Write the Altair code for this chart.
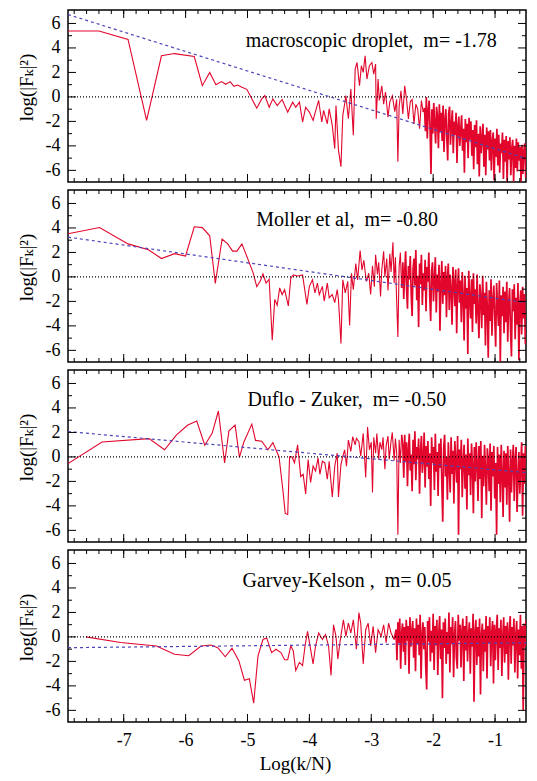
import altair as alt
import numpy as np
import pandas as pd

FONT = "Liberation Serif, Times New Roman, DejaVu Serif, serif"
RED = "#e2062c"
BLUE = "#4b45b8"

X_DOMAIN = [-7.9, -0.5]
Y_DOMAIN = [-6.95, 7.1]
X_MAJOR = [-7, -6, -5, -4, -3, -2, -1]
X_MINOR = [round(-7.8 + 0.2 * i, 1) for i in range(37)]
Y_MAJOR = [-6, -4, -2, 0, 2, 4, 6]
Y_MINOR = [-5, -3, -1, 1, 3, 5]
DENSE_STEP = 0.015

# ---------------- panel 1 : macroscopic droplet ----------------
p1_pts = [(-7.90, 5.38), (-7.40, 5.38), (-6.93, 4.70), (-6.63, -1.92), (-6.39, 3.36), (-6.18, 3.54),
          (-5.86, 3.30), (-5.73, 0.92), (-5.61, 2.0), (-5.51, 1.0), (-5.42, 1.25), (-5.35, 1.03),
          (-5.28, 1.25), (-5.22, 0.87), (-5.16, 0.97), (-5.09, 0.79), (-5.01, 0.62), (-4.85, -0.92),
          (-4.77, -0.16), (-4.72, 0.11), (-4.65, -0.84), (-4.59, -0.16), (-4.52, -0.70), (-4.44, -0.21),
          (-4.35, -1.24), (-4.27, -0.43), (-4.22, -0.84), (-4.16, -0.43), (-4.11, -2.05), (-4.06, -0.84),
          (-4.00, -1.24), (-3.94, -1.92), (-3.89, -0.97), (-3.85, -0.29), (-3.80, -2.05), (-3.77, -1.10),
          (-3.71, -2.19), (-3.68, -0.97), (-3.63, -2.32), (-3.59, -4.22), (-3.57, -0.70), (-3.53, -4.35),
          (-3.49, -5.70), (-3.46, -1.51), (-3.43, -0.57), (-3.41, 0.11), (-3.37, -1.78), (-3.33, 0.65),
          (-3.29, -3.13), (-3.26, 2.27), (-3.23, 2.81), (-3.19, 0.92), (-3.16, 2.55), (-3.13, 2.0),
          (-3.10, 3.36), (-3.07, 1.46), (-3.03, 2.55), (-2.99, 2.81), (-2.96, 1.86), (-2.93, 2.68),
          (-2.92, -1.78), (-2.89, 1.46), (-2.87, -0.29), (-2.83, 0.9), (-2.80, -0.6), (-2.77, 0.4),
          (-2.73, -1.65), (-2.70, -0.4), (-2.66, 0.1), (-2.62, -1.2), (-2.59, -0.2), (-2.57, -5.3),
          (-2.55, -0.8), (-2.52, 0.5), (-2.49, -1.4), (-2.46, 0.9), (-2.43, -0.2), (-2.40, -1.8),
          (-2.37, -0.4), (-2.34, -0.2), (-2.31, -2.2), (-2.28, -0.6), (-2.25, -1.0), (-2.22, -2.6),
          (-2.19, -0.3), (-2.16, -1.24)]
p1_dense_start = -2.14
p1_dense = [-0.9, -2.8, 0.0, -3.4, -1.2, -0.3, -2.6, -6.3, -1.0, -3.0,
            -0.5, -2.2, -3.8, -0.8, -1.6, -4.2, -0.6, -2.9, -1.3, -3.6,
            -0.7, -4.5, -1.9, -1.0, -3.3, -5.2, -1.4, -0.8, -3.9, -2.2,
            -1.1, -4.6, -2.0, -3.1, -1.3, -5.4, -2.4, -1.6, -4.0, -2.8,
            -1.5, -4.4, -2.6, -6.2, -1.8, -3.7, -2.2, -5.0, -1.7, -3.5,
            -2.0, -4.8, -2.7, -5.9, -2.3, -4.1, -1.9, -5.5, -3.0, -6.5,
            -2.4, -4.6, -3.3, -2.2, -5.7, -3.1, -6.4, -2.5, -4.3, -2.8,
            -5.2, -2.7, -6.0, -3.6, -2.9, -6.8, -3.4, -4.9, -2.6, -5.6,
            -3.1, -6.2, -3.8, -4.6, -2.9, -6.7, -3.5, -5.3, -3.2, -7.0,
            -3.6, -5.1, -3.3, -6.4, -4.2, -3.5, -6.9, -4.0, -5.8, -3.4,
            -6.1, -3.7, -5.2, -4.1, -7.0, -3.9, -6.3, -4.4, -3.8, -6.6]
p1_fit = [6.73, -5.03]

# ---------------- panel 2 : Moller et al ----------------
p2_pts = [(-7.90, 3.53), (-7.39, 4.03), (-6.93, 2.70), (-6.60, 2.22), (-6.39, 1.50), (-6.18, 1.90),
          (-6.00, 1.71), (-5.86, 4.10), (-5.73, 4.03), (-5.61, 3.36), (-5.52, -0.53), (-5.41, 3.10),
          (-5.32, 2.70), (-5.24, 2.11), (-5.17, 2.11), (-5.09, 2.70), (-4.97, 1.15), (-4.91, 0.35),
          (-4.85, -0.80), (-4.79, -0.29), (-4.75, 0.25), (-4.70, -0.50), (-4.65, -0.18), (-4.60, -5.17),
          (-4.56, -1.84), (-4.52, -2.32), (-4.48, -0.90), (-4.44, -1.44), (-4.40, -1.04), (-4.34, -2.37),
          (-4.30, -0.10), (-4.26, 0.16), (-4.19, 0.08), (-4.11, 0.16), (-4.04, -2.24), (-4.00, -0.77),
          (-3.95, -0.24), (-3.91, -1.30), (-3.87, -0.50), (-3.84, -1.44), (-3.79, -0.77), (-3.76, -1.97),
          (-3.71, -0.50), (-3.68, -1.70), (-3.63, -1.44), (-3.59, -2.10), (-3.55, -1.04), (-3.53, -1.84),
          (-3.49, -5.44), (-3.46, -0.24), (-3.42, -1.30), (-3.38, -0.37), (-3.35, -3.97), (-3.32, 0.30),
          (-3.29, -1.04), (-3.25, 1.10), (-3.22, -0.24), (-3.18, 2.16), (-3.15, 0.56), (-3.12, 1.36),
          (-3.08, -0.37), (-3.04, 0.30), (-3.01, -1.44), (-2.98, 0.9), (-2.95, -0.8), (-2.93, 1.8),
          (-2.90, 0.2), (-2.88, 1.2), (-2.85, -1.6), (-2.83, 0.6), (-2.80, 2.1), (-2.78, 0.0),
          (-2.75, 1.5), (-2.73, -1.1), (-2.70, 1.9), (-2.68, 0.4), (-2.65, 2.83), (-2.63, -0.5),
          (-2.61, 1.6), (-2.59, -1.9), (-2.57, -4.9), (-2.55, 0.8), (-2.53, 2.0), (-2.51, -0.9)]
p2_dense_start = -2.49
p2_dense = [1.2, -1.8, 0.4, 2.1, -0.9, -2.6, 0.9, -0.2, 1.7, -1.4,
            -3.2, 0.6, 1.5, -0.7, 2.2, -1.9, 0.1, -4.1, 1.1, -0.6,
            1.8, -2.3, 0.3, -1.1, 1.4, -2.8, 0.8, -0.4, 2.0, -1.6,
            -3.6, 0.5, 1.2, -2.0, -0.3, 1.6, -2.9, 0.2, -1.2, 1.0,
            -4.4, -0.6, 1.3, -2.2, 0.4, -1.5, 0.9, -3.3, -0.1, 1.1,
            -2.7, 0.2, -1.0, -3.9, 0.8, -0.5, -2.4, 0.6, -4.6, -0.8,
            0.7, -2.1, -0.3, -3.7, 0.4, -1.6, -5.2, 0.1, -2.6, -0.9,
            -6.3, 0.5, -1.8, -3.4, -0.2, -4.5, 0.3, -2.2, -1.0, -3.8,
            0.2, -2.9, -5.0, -0.6, -1.7, -4.2, 0.1, -3.1, -1.3, -5.6,
            -0.4, -2.5, -6.6, -1.1, -3.6, -0.2, -4.8, -1.9, -0.7, -3.3,
            -5.7, -0.5, -2.4, -4.0, -0.3, -6.9, -1.5, -3.2, -0.8, -4.6,
            -1.2, -3.7, -0.4, -5.3, -2.1, -0.9, -4.4, -6.5, -1.0, -2.8,
            -0.6, -5.1, -1.7, -3.9, -0.5, -6.8, -2.3, -1.1, -4.7, -0.8,
            -3.4, -1.4, -5.5]
p2_fit = [3.25, -2.10]

# ---------------- panel 3 : Duflo - Zuker ----------------
p3_pts = [(-7.90, -0.55), (-7.35, 1.22), (-6.59, 1.49), (-6.34, 0.58), (-6.15, 1.78), (-5.97, 2.58),
          (-5.82, 2.93), (-5.69, 0.95), (-5.57, 1.95), (-5.47, 3.75), (-5.37, -0.50), (-5.30, 2.13),
          (-5.20, 2.60), (-5.13, -0.04), (-5.06, 1.20), (-4.93, 2.68), (-4.87, 1.35), (-4.77, 1.28),
          (-4.67, 0.58), (-4.59, 1.17), (-4.49, 0.0), (-4.43, -2.62), (-4.39, -4.62), (-4.35, -4.70),
          (-4.32, 0.0), (-4.28, 0.0), (-4.24, -0.48), (-4.19, 0.98), (-4.14, -1.60), (-4.10, -1.42),
          (-4.06, -3.02), (-4.02, -0.22), (-3.98, -2.08), (-3.94, -0.75), (-3.90, -1.15), (-3.86, -0.08),
          (-3.83, -1.42), (-3.79, -0.35), (-3.75, -0.48), (-3.71, -1.82), (-3.68, -0.35), (-3.63, -3.28),
          (-3.59, -0.75), (-3.55, 0.32), (-3.53, -3.28), (-3.49, -0.62), (-3.46, 0.05), (-3.43, 0.58),
          (-3.40, -0.75), (-3.37, 1.38), (-3.33, 0.45), (-3.30, 1.65), (-3.26, 0.98), (-3.24, 1.52),
          (-3.20, 1.25), (-3.17, 0.05), (-3.13, 1.92), (-3.09, -1.68), (-3.06, 2.45), (-3.03, 0.58),
          (-3.00, 1.2), (-2.98, -2.9), (-2.96, 1.6), (-2.93, 0.3), (-2.91, 1.9), (-2.88, -0.2),
          (-2.86, 1.2), (-2.83, 0.6), (-2.81, 1.6), (-2.78, -1.0), (-2.76, 0.9), (-2.73, 1.7),
          (-2.71, -0.2), (-2.68, 1.3), (-2.66, 2.0), (-2.63, -0.3), (-2.61, 1.5), (-2.59, 0.4),
          (-2.57, -6.35), (-2.55, 1.4), (-2.53, -0.5), (-2.51, 1.8)]
p3_dense_start = -2.49
p3_dense = [0.9, -1.7, 1.8, -0.4, 1.2, -2.4, 0.6, 1.9, -1.1, 0.2,
            -2.8, 1.4, -0.6, 2.1, -1.9, 0.8, -0.2, 1.5, -3.0, 0.5,
            1.7, -1.3, -0.1, 2.0, -2.5, 0.9, -0.8, 1.3, -1.8, 0.3,
            -4.0, 1.6, -0.5, 0.8, -2.7, 1.9, -1.2, 0.4, -3.2, 1.1,
            -0.9, 1.5, -2.2, -5.3, 0.7, 1.8, -1.6, 0.0, -3.5, 1.2,
            -0.7, -2.9, 1.6, -1.4, 0.5, -3.8, 1.3, -0.3, -2.1, 1.7,
            -6.35, 0.6, -1.0, 1.4, -3.3, -0.4, 1.0, -2.6, 0.2, -4.3,
            1.5, -1.5, 0.3, -3.1, 1.1, -0.8, -4.6, 0.8, -2.0, 1.2,
            -0.6, -3.6, 0.9, -1.8, 1.3, -5.0, 0.1, -2.4, 1.0, -1.1,
            -3.9, 0.7, -0.2, -2.8, 1.1, -4.4, 0.4, -1.6, 0.9, -3.4,
            -0.5, -6.35, 0.8, -2.2, 0.2, -3.7, 1.0, -1.3, -4.9, 0.5,
            -2.5, 0.3, -3.9, 0.9, -1.4, -5.3, 0.6, -2.9, -0.4, 1.0,
            -3.6, -0.2, 0.8, -4.5, -1.7, 0.4, -3.0, -0.6, 1.2, -4.8,
            0.3, -2.2, 0.9]
p3_fit = [2.07, -1.28]

# ---------------- panel 4 : Garvey-Kelson ----------------
p4_pts = [(-7.61, 0.0), (-7.05, -0.45), (-6.47, -0.74), (-6.18, -1.41), (-5.95, -1.54), (-5.75, -0.74),
          (-5.59, -0.66), (-5.48, -0.88), (-5.36, -1.62), (-5.25, -0.93), (-5.14, -1.94), (-5.05, -3.54),
          (-4.97, -3.41), (-4.90, -5.41), (-4.83, -1.54), (-4.75, -0.21), (-4.69, -0.08), (-4.61, -1.28),
          (-4.54, -1.01), (-4.46, -1.28), (-4.40, -1.86), (-4.35, -1.86), (-4.30, -0.74), (-4.26, -1.14),
          (-4.22, -2.74), (-4.16, -2.08), (-4.11, -2.34), (-4.07, -0.74), (-4.03, 0.46), (-3.98, -1.01),
          (-3.94, -2.21), (-3.90, -0.74), (-3.85, 0.32), (-3.79, -0.21), (-3.74, 0.19), (-3.69, -0.74),
          (-3.65, -3.14), (-3.61, 0.99), (-3.57, 0.05), (-3.54, -1.81), (-3.50, -0.21), (-3.45, 1.39),
          (-3.41, 0.05), (-3.37, 1.12), (-3.33, 0.32), (-3.29, 1.39), (-3.24, -1.01), (-3.20, 1.98),
          (-3.17, 1.12), (-3.13, -2.21), (-3.09, 0.59), (-3.05, 1.12), (-3.01, -0.74), (-2.97, 0.86),
          (-2.93, -1.28), (-2.89, 0.59), (-2.84, 0.05), (-2.80, 0.99), (-2.76, -0.48), (-2.72, 1.12),
          (-2.68, 0.32), (-2.63, -0.21)]
p4_dense_start = -2.60
p4_dense = [0.6, -1.9, 1.2, -0.5, 1.5, -2.6, 0.3, 1.1, -1.2, 0.8,
            -2.3, 1.4, -0.3, 0.9, -3.0, 1.6, -0.8, 0.4, 1.3, -1.7,
            0.7, -2.8, 1.5, -0.6, 1.0, -1.5, 1.8, -3.4, 0.2, 1.2,
            -1.0, 0.8, -2.4, -4.3, 1.3, -0.4, 1.6, -2.0, 0.5, -1.3,
            1.9, -2.7, 0.9, -0.7, 1.4, -3.1, 0.3, 1.7, -1.8, 0.6,
            -5.0, 1.2, -0.9, 1.5, -2.2, 0.4, -1.4, 2.0, -2.9, 0.8,
            -0.6, 1.6, -3.3, 0.2, 1.3, -1.7, -2.6, 1.8, -0.3, 1.0,
            -2.5, 0.5, 1.5, -3.6, 0.9, -1.1, 1.7, -2.0, 0.1, 1.2,
            -3.0, 0.7, -0.8, 1.9, -5.3, 0.4, 1.4, -2.3, 0.8, -1.6,
            1.5, -4.7, 0.2, 1.1, -2.8, 0.6, -1.2, 1.7, -3.4, 0.9,
            -0.5, 1.6, -2.4, 0.3, 1.3, -3.8, 1.0, -1.9, 0.5, 1.8,
            -2.7, 0.7, -0.9, 1.4, -3.2, 0.1, 1.6, -2.1, 0.9, -1.4,
            1.2, -3.5, 0.4, 1.7, -2.2, 0.8, -0.7, 1.5, -2.9, 0.2,
            1.3, -3.4, 0.6, -1.5, 1.8, -2.6, 0.9, -6.0, 1.1, -0.8,
            1.4]
p4_fit = [-0.88, -0.48]

labels = ["macroscopic droplet,\u00a0\u00a0m= -1.78",
          "Moller et al,\u00a0\u00a0m= -0.80",
          "Duflo - Zuker,\u00a0\u00a0m= -0.50",
          "Garvey-Kelson ,\u00a0\u00a0m= 0.05"]
label_pos = [(-5.03, 4.1), (-4.86, 4.12), (-5.00, 4.16), (-5.08, 4.05)]

PANEL_W = 458
PANEL_H = 172
MAJ = 8
MIN = 4

XS = alt.Scale(domain=X_DOMAIN, nice=False, zero=False)
YS = alt.Scale(domain=Y_DOMAIN, nice=False, zero=False)


def panel(pts, dstart, dense, fit, label, lpos, last):
    if last:
        x_axis = alt.Axis(values=X_MAJOR, ticks=False, tickSize=0, domain=False, grid=False,
                          labelFont=FONT, labelFontSize=18, labelColor="black",
                          labelExpr="'' + datum.value", labelPadding=9,
                          title="Log(k/N)", titleFont=FONT, titleFontSize=19,
                          titleFontWeight="normal", titleColor="black", titlePadding=5,
                          titleX=227)
    else:
        x_axis = None
    y_axis = alt.Axis(values=Y_MAJOR, ticks=False, tickSize=0, domain=False, grid=False,
                      labelFont=FONT, labelFontSize=18, labelColor="black",
                      labelExpr="'' + datum.value", labelPadding=8,
                      title="log(|F\u2096|\u00b2)", titleFont=FONT, titleFontSize=19,
                      titleFontWeight="normal", titleColor="black", titlePadding=9,
                      titleY=PANEL_H / 2 - 9)

    def X(field):
        return alt.X(field, scale=XS, axis=x_axis)

    def Y(field):
        return alt.Y(field, scale=YS, axis=y_axis)

    def y_ticks(values, length, right):
        df = pd.DataFrame({"x": values})
        x0 = PANEL_W - length if right else 0
        x1 = PANEL_W if right else length
        return alt.Chart(df).mark_rule(color="black", strokeWidth=1).encode(
            y=Y("x:Q"), x=alt.value(x0), x2=alt.value(x1))

    def x_ticks(values, length, top):
        df = pd.DataFrame({"x": values})
        y0 = 0 if top else PANEL_H - length
        y1 = length if top else PANEL_H
        return alt.Chart(df).mark_rule(color="black", strokeWidth=1).encode(
            x=X("x:Q"), y=alt.value(y0), y2=alt.value(y1))

    dx = np.round(dstart + DENSE_STEP * np.arange(len(dense)), 4)
    sparse_df = pd.DataFrame({"x": [p[0] for p in pts], "y": [p[1] for p in pts]})
    dense_df = pd.DataFrame({"x": [pts[-1][0]] + list(dx), "y": [pts[-1][1]] + list(dense)})
    fit_df = pd.DataFrame({"x": X_DOMAIN, "y": fit})
    zero_df = pd.DataFrame({"x": X_DOMAIN, "y": [0, 0]})
    txt_df = pd.DataFrame({"x": [lpos[0]], "y": [lpos[1]], "t": [label]})

    red = alt.Chart(sparse_df).mark_line(color=RED, strokeWidth=1.1, clip=True).encode(
        x=X("x:Q"), y=Y("y:Q"))
    red_dense = alt.Chart(dense_df).mark_line(color=RED, strokeWidth=1.7, clip=True).encode(
        x=X("x:Q"), y=Y("y:Q"))
    zero = alt.Chart(zero_df).mark_line(color="black", strokeDash=[1, 2], strokeWidth=1.2,
                                        clip=True).encode(x=X("x:Q"), y=Y("y:Q"))
    fitl = alt.Chart(fit_df).mark_line(color=BLUE, strokeDash=[3, 3], strokeWidth=1.2,
                                       clip=True).encode(x=X("x:Q"), y=Y("y:Q"))
    txt = alt.Chart(txt_df).mark_text(font=FONT, fontSize=20, align="left", baseline="alphabetic",
                                      color="black").encode(x=X("x:Q"), y=Y("y:Q"), text="t:N")
    ticks = [y_ticks(Y_MAJOR, MAJ, False), y_ticks(Y_MINOR, MIN, False),
             y_ticks(Y_MAJOR, MAJ, True), y_ticks(Y_MINOR, MIN, True),
             x_ticks(X_MAJOR, MAJ, False), x_ticks(X_MINOR, MIN, False),
             x_ticks(X_MAJOR, MAJ, True), x_ticks(X_MINOR, MIN, True)]
    return alt.layer(red, red_dense, zero, fitl, txt, *ticks).properties(
        width=PANEL_W, height=PANEL_H)


panels = []
data = [(p1_pts, p1_dense_start, p1_dense, p1_fit), (p2_pts, p2_dense_start, p2_dense, p2_fit),
        (p3_pts, p3_dense_start, p3_dense, p3_fit), (p4_pts, p4_dense_start, p4_dense, p4_fit)]
for i, (pts, ds, dn, ft) in enumerate(data):
    panels.append(panel(pts, ds, dn, ft, labels[i], label_pos[i], i == 3))

chart = alt.vconcat(*panels, spacing=4).properties(
    padding={"left": 8, "top": 0, "right": 0, "bottom": 0}
).configure_view(stroke="black", strokeWidth=1.5)

chart.save("out.html", embed_options={"renderer": "svg", "actions": False})
